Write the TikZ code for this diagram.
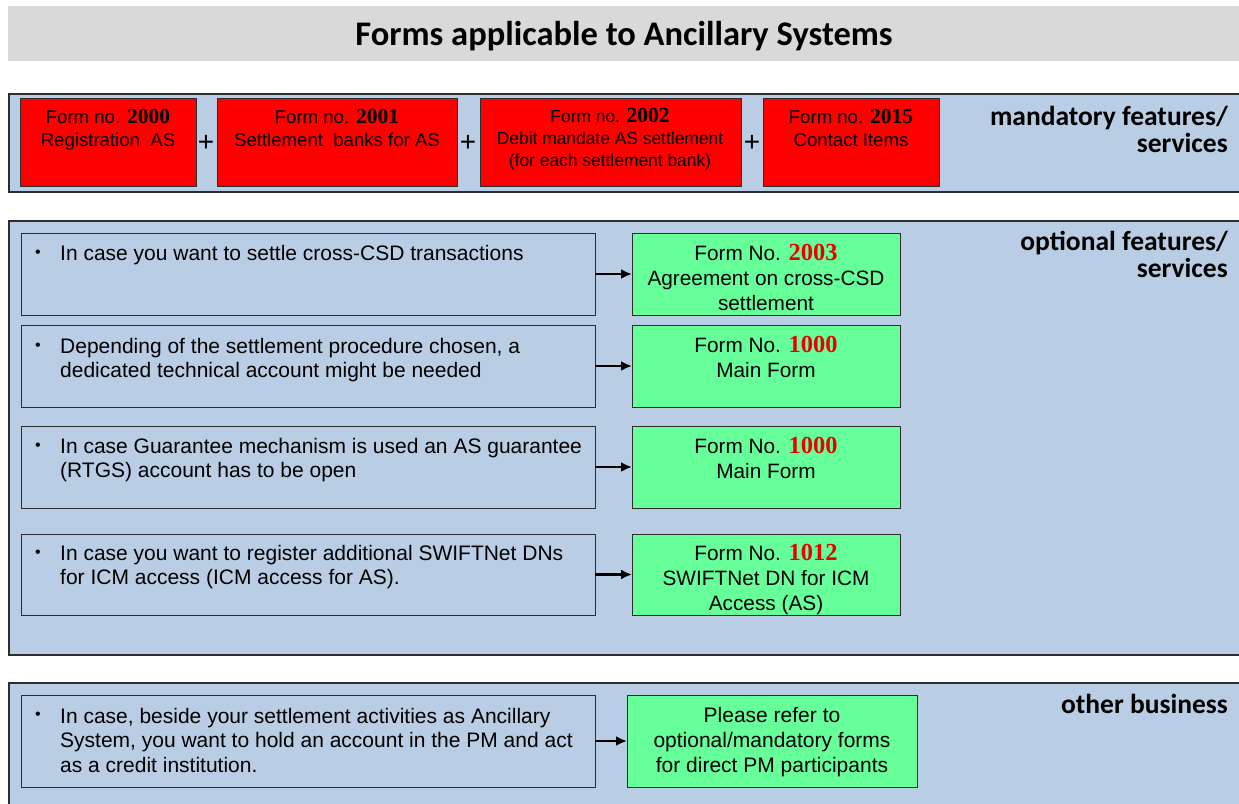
\documentclass[tikz,border=0pt]{standalone}
\usepackage{fontspec}
\setmainfont{Liberation Sans}
\newfontfamily\headfont{Carlito}
\newfontfamily\numfont{Liberation Serif}
\usetikzlibrary{arrows.meta}

\definecolor{panelblue}{RGB}{185,205,229}
\definecolor{formred}{RGB}{255,0,0}
\definecolor{formgreen}{RGB}{102,255,153}
\definecolor{titlegray}{RGB}{217,217,217}
\definecolor{edgegray}{RGB}{45,45,45}
\definecolor{numred}{RGB}{235,0,0}

% rectangle node spanning (x1,y1)-(x2,y2), named #1, style #2
\newcommand\boxat[6]{%
  \node[#2, inner sep=0pt, outer sep=0pt,
        minimum width={(#5-#3)*1pt}, minimum height={(#6-#4)*1pt}]
        (#1) at ({(#3+#5)/2},{(#4+#6)/2}) {};}
\newcommand\rednum[1]{{\numfont\bfseries\fontsize{21.5}{21.5}\selectfont #1}}
\newcommand\grnnum[1]{{\numfont\bfseries\fontsize{24.5}{24.5}\selectfont\color{numred}#1}}

\begin{document}
\begin{tikzpicture}[x=1pt,y=-1pt,
  panel/.style={draw=edgegray, line width=1.2pt, fill=panelblue},
  redform/.style={draw=edgegray, line width=1pt, fill=formred},
  greenform/.style={draw=edgegray, line width=1pt, fill=formgreen},
  casebox/.style={draw=edgegray, line width=1pt},
  redtext/.style={inner sep=0pt, anchor=north, align=center,
                  font=\fontsize{18.6}{23}\selectfont},
  greentext/.style={inner sep=0pt, anchor=north, align=center,
                  font=\fontsize{20.8}{25}\selectfont},
  casetext/.style={inner sep=0pt, anchor=north west, align=left,
                  font=\fontsize{21}{24.5}\selectfont},
  bulletmark/.style={inner sep=0pt, font=\fontsize{16}{16}\selectfont},
  heading/.style={inner sep=0pt, anchor=north east, align=right,
                  font=\headfont\bfseries\fontsize{27.5}{27}\selectfont},
  plus/.style={inner sep=0pt, font=\fontsize{28}{28}\selectfont},
  link/.style={-{Latex[length=11pt,width=10pt]}, line width=2.6pt}]

\useasboundingbox (0,0) rectangle (1239,803);

% title bar
\fill[titlegray] (8,6) rectangle (1245,61);
\node[inner sep=0pt, font=\headfont\bfseries\fontsize{34.5}{34.5}\selectfont]
  (title) at (624,36) {Forms applicable to Ancillary Systems};

% panels
\boxat{pmand}{panel}{9}{94}{1250}{192}
\boxat{popt}{panel}{9}{221}{1250}{655}
\boxat{pother}{panel}{9}{683}{1250}{820}

% mandatory forms
\boxat{r1}{redform}{20}{98}{196}{186}
\boxat{r2}{redform}{217}{98}{457}{186}
\boxat{r3}{redform}{480}{98}{741}{186}
\boxat{r4}{redform}{763}{98}{939}{186}
\node[redtext] (r1t) at (108,109) {Form no. \rednum{2000}\\Registration\ \ AS};
\node[redtext] (r2t) at (337,109) {Form no. \rednum{2001}\\Settlement\ \ banks for AS};
\node[redtext, font=\fontsize{17.4}{22}\selectfont] (r3t) at (610,108)
  {Form no. \rednum{2002}\\Debit mandate AS settlement\\(for each settlement bank)};
\node[redtext] (r4t) at (851,109) {Form no. \rednum{2015}\\Contact Items};
\node[plus] (p1) at (206,143) {+};
\node[plus] (p2) at (468,143) {+};
\node[plus] (p3) at (752,143) {+};
\node[heading] (hmand) at (1228,106) {mandatory features/\\services};

% optional features
\node[heading] (hopt) at (1228,231) {optional features/\\services};

\boxat{c1}{casebox}{21}{233}{595}{315}
\boxat{c2}{casebox}{21}{325}{595}{407}
\boxat{c3}{casebox}{21}{426}{595}{508}
\boxat{c4}{casebox}{21}{534}{595}{615}
\boxat{g1}{greenform}{632}{233}{900}{315}
\boxat{g2}{greenform}{632}{325}{900}{407}
\boxat{g3}{greenform}{632}{426}{900}{508}
\boxat{g4}{greenform}{632}{534}{900}{615}

\node[bulletmark] (b1) at (38,254) {\textbullet};
\node[bulletmark] (b2) at (38,347) {\textbullet};
\node[bulletmark] (b3) at (38,447) {\textbullet};
\node[bulletmark] (b4) at (38,554) {\textbullet};
\node[casetext] (c1t) at (60,245) {In case you want to settle cross-CSD transactions};
\node[casetext] (c2t) at (60,338) {Depending of the settlement procedure chosen, a\\dedicated technical account might be needed};
\node[casetext] (c3t) at (60,438) {In case Guarantee mechanism is used an AS guarantee\\(RTGS) account has to be open};
\node[casetext] (c4t) at (60,545) {In case you want to register additional SWIFTNet DNs\\for ICM access (ICM access for AS).};

\node[greentext] (g1t) at (766,244) {Form No. \grnnum{2003}\\Agreement on cross-CSD\\settlement};
\node[greentext] (g2t) at (766,336) {Form No. \grnnum{1000}\\Main Form};
\node[greentext] (g3t) at (766,437) {Form No. \grnnum{1000}\\Main Form};
\node[greentext] (g4t) at (766,544) {Form No. \grnnum{1012}\\SWIFTNet DN for ICM\\Access (AS)};

\draw[link] (c1.east) -- (g1.west);
\draw[link] (c2.east) -- (g2.west);
\draw[link] (c3.east) -- (g3.west);
\draw[link] (c4.east) -- (g4.west);

% other business
\node[heading] (hother) at (1228,694) {other business};
\boxat{c5}{casebox}{21}{695}{595}{787}
\boxat{g5}{greenform}{627}{695}{917}{787}
\node[bulletmark] (b5) at (38,716) {\textbullet};
\node[casetext] (c5t) at (60,708) {In case, beside your settlement activities as Ancillary\\System, you want to hold an account in the PM and act\\as a credit institution.};
\node[greentext, font=\fontsize{21}{25}\selectfont] (g5t) at (772,707) {Please refer to\\optional/mandatory forms\\for direct PM participants};
\draw[link] (c5.east) -- (g5.west);

\end{tikzpicture}
\end{document}
